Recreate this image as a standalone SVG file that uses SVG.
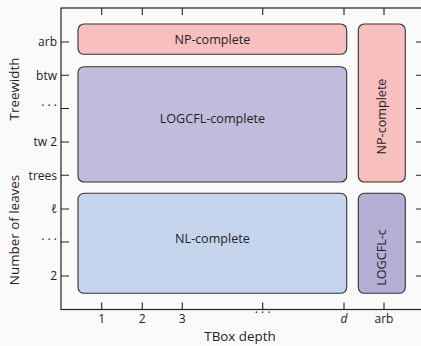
<svg xmlns="http://www.w3.org/2000/svg" width="421" height="346" viewBox="0 0 421 346">
<style>
text{font-family:"Open Sans","Noto Sans","DejaVu Sans",sans-serif;font-size:12px;fill:#222}
.ax{stroke:#222;stroke-width:1.2;fill:none}
.tk{stroke:#222;stroke-width:1.1}
.box{stroke:#333;stroke-width:1.1}
.yl{text-anchor:end}
.xl{text-anchor:middle}
.c{text-anchor:middle;font-size:12.6px}
.t{text-anchor:middle;font-size:13.4px}
</style>
<rect width="421" height="346" fill="#fafafa"/>
<g id="axes">
<rect class="ax" x="61" y="8" width="363" height="301.5"/>
<g class="tk">
<path d="M61 42h8M61 75.3h8M61 108.5h8M61 142h8M61 175.3h8M61 209h8M61 242h8M61 276h8"/>
<path d="M424 42h-8M424 75.3h-8M424 108.5h-8M424 142h-8M424 175.3h-8M424 209h-8M424 242h-8M424 276h-8"/>
<path d="M101.7 309.5v-7M142.3 309.5v-7M182.3 309.5v-7M262.7 309.5v-7M344 309.5v-7M384 309.5v-7"/>
<path d="M101.7 8v7M142.3 8v7M182.3 8v7M262.7 8v7M344 8v7M384 8v7"/>
</g>
<text class="yl" x="57" y="46">arb</text>
<text class="yl" x="57" y="79.5">btw</text>
<text class="yl" x="57" y="110">· · ·</text>
<text class="yl" x="57" y="146">tw 2</text>
<text class="yl" x="57" y="179.5">trees</text>
<text class="yl" x="57" y="213" font-style="italic">ℓ</text>
<text class="yl" x="57" y="244">· · ·</text>
<text class="yl" x="57" y="280">2</text>
<text class="xl" x="101.7" y="322.5">1</text>
<text class="xl" x="142.3" y="322.5">2</text>
<text class="xl" x="182.3" y="322.5">3</text>
<text class="xl" x="262.7" y="317">· · ·</text>
<text class="xl" x="344" y="322.5" font-style="italic">d</text>
<text class="xl" x="384" y="322.5">arb</text>
<text class="t" transform="translate(18.5 89) rotate(-90)">Treewidth</text>
<text class="t" transform="translate(18.5 230) rotate(-90)">Number of leaves</text>
<text class="t" x="240" y="341">TBox depth</text>
</g>
<g id="np-top">
<rect class="box" x="78" y="24" width="268.7" height="30.3" rx="6" fill="#f8bfbf"/>
<text class="c" x="212.4" y="43.5">NP-complete</text>
</g>
<g id="logcfl">
<rect class="box" x="78" y="66.7" width="268.7" height="115.3" rx="6" fill="#c0bcdc"/>
<text class="c" x="212.4" y="122.5">LOGCFL-complete</text>
</g>
<g id="nl">
<rect class="box" x="78" y="193.3" width="268.7" height="100" rx="6" fill="#c6d5ee"/>
<text class="c" x="212.4" y="242.5">NL-complete</text>
</g>
<g id="np-right">
<rect class="box" x="358.3" y="24" width="47" height="158" rx="6" fill="#f8bfbf"/>
<text class="c" transform="translate(385.5 116.5) rotate(-90)">NP-complete</text>
</g>
<g id="logcfl-right">
<rect class="box" x="358.3" y="193.3" width="47" height="100" rx="6" fill="#b5afd6"/>
<text class="c" transform="translate(385.5 257.5) rotate(-90)">LOGCFL-c</text>
</g>
</svg>
